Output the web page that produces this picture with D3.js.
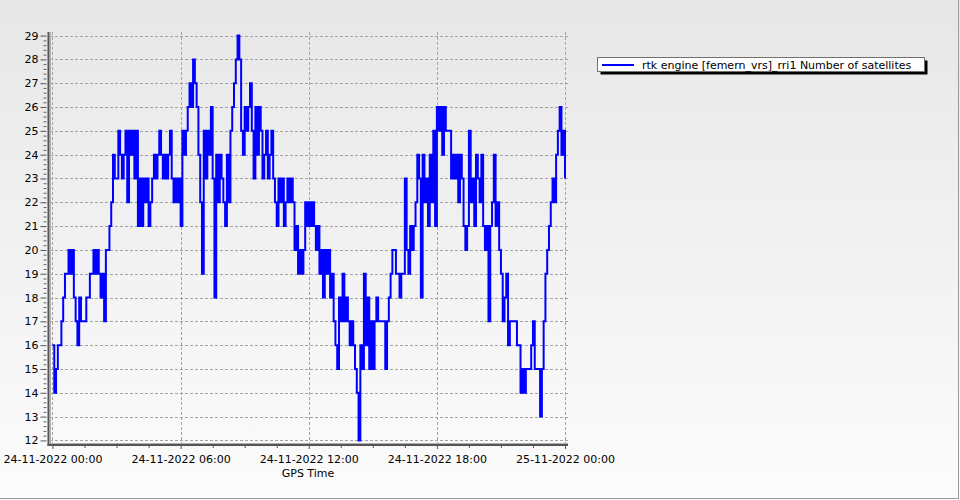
<!DOCTYPE html>
<html>
<head>
<meta charset="utf-8">
<script src="https://cdn.jsdelivr.net/npm/d3@7"></script>
<style>
  html, body { margin: 0; padding: 0; background: #fff; }
  svg { display: block; font-family: "DejaVu Sans", Verdana, sans-serif; }
</style>
</head>
<body>
<svg id="chart" width="960" height="500"></svg>
<script>
// ---- data ----
const seriesName = "rtk engine [femern_vrs]_rri1 Number of satellites";
const xAxisTitle = "GPS Time";
const startTime = "2022-11-24T00:00:00Z";
const stepMinutes = 5;
// number of satellites, one value every 5 minutes (rows = hours)
const satellites = [
  16,14,15,16,16,17,18,19,19,20,19,20,
  18,17,16,18,17,17,17,18,18,19,19,20,
  19,20,19,18,19,17,20,20,21,22,24,23,
  23,25,24,23,24,25,22,25,24,25,23,25,
  21,23,21,23,22,23,21,22,23,24,23,24,
  25,24,23,24,23,24,25,23,22,23,22,23,
  21,25,24,25,26,27,26,28,27,26,24,22,
  19,25,23,25,24,26,23,18,24,22,24,23,
  22,21,24,22,25,26,27,28,29,28,25,24,
  26,25,26,27,25,23,26,24,26,25,23,24,
  25,23,24,25,23,22,21,23,22,23,21,22,
  23,22,23,22,20,21,19,20,19,20,22,21,
  22,21,22,21,20,21,19,20,18,20,19,20,
  18,19,17,16,15,18,17,19,17,18,17,16,
  17,16,15,14,12,16,15,19,16,18,15,17,
  15,17,18,17,17,17,17,15,17,18,19,20,
  20,19,19,18,19,19,23,20,19,21,20,21,
  22,24,23,18,24,22,23,21,24,22,25,21,
  26,25,26,24,26,25,25,25,23,24,23,24,
  22,24,23,21,20,21,25,22,23,21,24,23,
  22,24,21,20,21,17,21,22,24,21,22,20,
  19,17,18,19,16,17,17,17,17,16,16,14,
  15,14,15,15,15,16,17,15,15,15,13,15,
  17,19,20,21,22,23,22,24,25,26,24,25,
  23
];
const xTickHours = [0, 6, 12, 18, 24];
const yTicks = [12,13,14,15,16,17,18,19,20,21,22,23,24,25,26,27,28,29];

// ---- setup ----
const svg = d3.select("#chart");
const t0 = new Date(startTime).getTime();
const H = 3600e3;
const data = satellites.map((v, i) => ({ t: new Date(t0 + i * stepMinutes * 60e3), v }));

const x = d3.scaleUtc()
  .domain([new Date(t0 - 0.2107 * H), new Date(t0 + 24.1405 * H)])
  .range([48, 568]);
const y = d3.scaleLinear().domain([11.85, 29.15]).range([444, 32]);

// background gradient
const defs = svg.append("defs");
const grad = defs.append("linearGradient").attr("id", "bg").attr("x1", 0).attr("y1", 0).attr("x2", 0).attr("y2", 1);
grad.append("stop").attr("offset", "0%").attr("stop-color", "#e7e7e7");
grad.append("stop").attr("offset", "100%").attr("stop-color", "#fcfcfc");
svg.append("rect").attr("width", 960).attr("height", 500).attr("fill", "url(#bg)");
// outer border (right/bottom)
svg.append("line").attr("x1", 958.5).attr("x2", 958.5).attr("y1", 0).attr("y2", 499).attr("stroke", "#9a9a9a");
svg.append("line").attr("x1", 0).attr("x2", 959).attr("y1", 498.5).attr("y2", 498.5).attr("stroke", "#9a9a9a");

// grid
const majorX = xTickHours.map(h => new Date(t0 + h * H));
const grid = svg.append("g").attr("stroke", "#a4a4a4").attr("stroke-dasharray", "3,2").attr("stroke-width", 1);
grid.selectAll("line.h").data(yTicks).join("line")
  .attr("x1", 50).attr("x2", 568)
  .attr("y1", d => Math.round(y(d)) + 0.5).attr("y2", d => Math.round(y(d)) + 0.5);
grid.selectAll("line.v").data(majorX).join("line")
  .attr("x1", d => Math.round(x(d)) + 0.5).attr("x2", d => Math.round(x(d)) + 0.5)
  .attr("y1", 32).attr("y2", 444);

// x axis (ticks + labels)
const xAxis = d3.axisBottom(x).tickValues(majorX)
  .tickFormat(d3.utcFormat("%d-%m-%Y %H:%M")).tickSize(4).tickPadding(6);
const gx = svg.append("g").attr("transform", "translate(0,445)").call(xAxis);
gx.select(".domain").remove();
gx.selectAll("text").attr("font-size", 11).attr("fill", "#000").attr("font-family", "DejaVu Sans");
gx.selectAll("line").attr("stroke", "#555");
const minorX = d3.range(0, 24.01, 1.5).filter(h => h % 6 !== 0).map(h => new Date(t0 + h * H));
const gxm = svg.append("g").attr("transform", "translate(0,445)")
  .call(d3.axisBottom(x).tickValues(minorX).tickFormat("").tickSize(3));
gxm.select(".domain").remove();
gxm.selectAll("line").attr("stroke", "#555");

// y axis
const yAxis = d3.axisLeft(y).tickValues(yTicks).tickFormat(d3.format("d")).tickSize(6).tickPadding(2);
const gy = svg.append("g").attr("transform", "translate(46.5,0)").call(yAxis);
gy.select(".domain").remove();
gy.selectAll("text").attr("font-size", 11).attr("fill", "#000").attr("font-family", "DejaVu Sans");
gy.selectAll("line").attr("stroke", "#555");
const minorY = d3.range(12, 29.001, 0.2).filter(v => Math.abs(v - Math.round(v)) > 0.01);
const gym = svg.append("g").attr("transform", "translate(46.5,0)")
  .call(d3.axisLeft(y).tickValues(minorY).tickFormat("").tickSize(3));
gym.select(".domain").remove();
gym.selectAll("line").attr("stroke", "#666");

// axis lines
svg.append("line").attr("x1", 48.5).attr("x2", 48.5).attr("y1", 32).attr("y2", 446).attr("stroke", "#555").attr("stroke-width", 2);
svg.append("line").attr("x1", 50.5).attr("x2", 50.5).attr("y1", 32).attr("y2", 444).attr("stroke", "#b0b0b0").attr("stroke-width", 1);
svg.append("line").attr("x1", 47.5).attr("x2", 568).attr("y1", 445).attr("y2", 445).attr("stroke", "#555").attr("stroke-width", 2);
svg.append("line").attr("x1", 50).attr("x2", 568).attr("y1", 443.5).attr("y2", 443.5).attr("stroke", "#b0b0b0").attr("stroke-width", 1);

// series line
const line = d3.line().x(d => x(d.t)).y(d => y(d.v)).curve(d3.curveStepAfter);
svg.append("path").datum(data).attr("d", line)
  .attr("fill", "none").attr("stroke", "#0000ff").attr("stroke-width", 2);

// axis title
svg.append("text").attr("x", 308).attr("y", 477).attr("text-anchor", "middle")
  .attr("font-size", 11).attr("fill", "#000").text(xAxisTitle);

// legend
const lg = svg.append("g");
lg.append("rect").attr("x", 600.5).attr("y", 60.5).attr("width", 327).attr("height", 14).attr("fill", "#000");
lg.append("rect").attr("x", 597.5).attr("y", 57.5).attr("width", 327).attr("height", 14)
  .attr("fill", "#fff").attr("stroke", "#707070");
lg.append("line").attr("x1", 602).attr("x2", 634).attr("y1", 65).attr("y2", 65)
  .attr("stroke", "#0000ff").attr("stroke-width", 2);
lg.append("text").attr("x", 642).attr("y", 68.5).attr("font-size", 11).attr("fill", "#000").text(seriesName);
</script>
</body>
</html>
